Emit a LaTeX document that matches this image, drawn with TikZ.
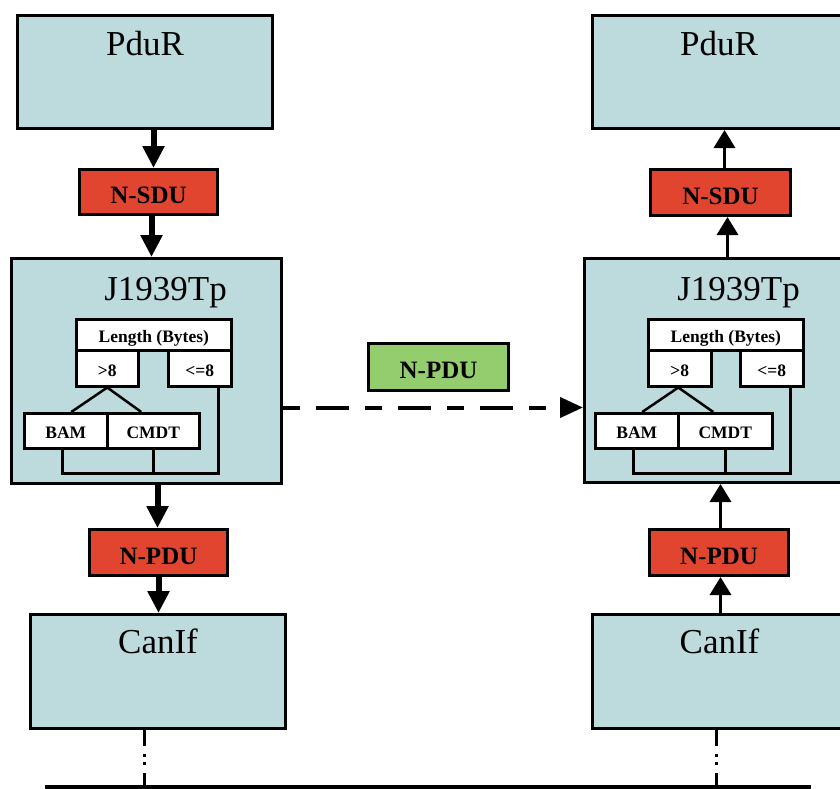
\documentclass[tikz,border=0pt]{standalone}
\usepackage{fontspec}
\setmainfont{Liberation Serif}
\usetikzlibrary{arrows.meta}
\definecolor{boxteal}{HTML}{BDDBDC}
\definecolor{boxred}{HTML}{E2452F}
\definecolor{boxgreen}{HTML}{93CD6E}
\begin{document}
\begin{tikzpicture}[x=1pt,y=-1pt,
  tbox/.style={draw=black, line width=3pt, fill=boxteal, anchor=north west, inner sep=0pt},
  rbox/.style={draw=black, line width=3pt, fill=boxred, anchor=north west, inner sep=0pt, text height=23pt, text depth=0pt, font=\fontsize{25}{30}\selectfont\bfseries},
  gbox/.style={draw=black, line width=3pt, fill=boxgreen, anchor=north west, inner sep=0pt, text height=22pt, text depth=0pt, font=\fontsize{25}{30}\selectfont\bfseries},
  wbox/.style={draw=black, line width=2.5pt, fill=white, anchor=north west, inner sep=0pt, text height=16pt, text depth=0pt, font=\fontsize{17.5}{20}\selectfont\bfseries},
  big/.style={font=\fontsize{35}{40}\selectfont, anchor=base, inner sep=0pt},
  downarr/.style={line width=6pt, -{Triangle[length=22pt,width=21pt]}},
  uparr/.style={line width=3.5pt, -{Triangle[length=18pt,width=21pt]}},
  inner/.style={line width=2.5pt},
  dasharr/.style={line width=4pt, dash pattern=on 17pt off 16pt on 33pt off 16pt, -{Triangle[length=23pt,width=20pt]}},
  dotline/.style={line width=2.5pt, dash pattern=on 16pt off 8pt on 3pt off 5pt on 3pt off 8pt on 30pt},
  busline/.style={line width=6pt}]
\useasboundingbox (0,0) rectangle (840,789);
\clip (0,0) rectangle (840,789);

% ---------- left column ----------
\node[tbox, minimum width=255pt, minimum height=113pt] (pduRL) at (16,14) {};
\node[big] (tPduRL) at ([yshift=-42pt]pduRL.north) {PduR};
\node[rbox, minimum width=138pt, minimum height=45pt] (nsduL) at (78,168) {N-SDU};
\node[tbox, minimum width=270pt, minimum height=225pt] (jtpL) at (10,257) {};
\node[big] (tJtpL) at ([xshift=19pt,yshift=-43pt]jtpL.north) {J1939Tp};
\node[rbox, minimum width=138pt, minimum height=46pt] (npduL) at (88,528) {N-PDU};
\node[tbox, minimum width=255pt, minimum height=114pt] (canifL) at (29,613) {};
\node[big] (tCanifL) at ([yshift=-40pt]canifL.north) {CanIf};

\node[wbox, minimum width=155pt, minimum height=31pt] (lenL) at (75,318) {Length (Bytes)};
\node[wbox, minimum width=62pt, minimum height=36pt] (gtL) at (75,349) {>8};
\node[wbox, minimum width=63pt, minimum height=36pt] (leL) at (167,349) {<=8};
\node[wbox, minimum width=83pt, minimum height=35pt] (bamL) at (23,412) {BAM};
\node[wbox, minimum width=92pt, minimum height=35pt] (cmdtL) at (106,412) {CMDT};

\draw[inner] (gtL.south) -- ([xshift=5.5pt]bamL.north);
\draw[inner] (gtL.south) -- ([xshift=-12pt]cmdtL.north);
\draw[inner] ([xshift=-3.5pt]bamL.south) -- ++(0,24) -| ([xshift=18.5pt]leL.south);
\draw[inner] (cmdtL.south) -- ++(0,24);

% ---------- right column ----------
\node[tbox, minimum width=253pt, minimum height=113pt] (pduRR) at (591,14) {};
\node[big] (tPduRR) at ([yshift=-42pt]pduRR.north) {PduR};
\node[rbox, minimum width=140pt, minimum height=46pt] (nsduR) at (649,168) {N-SDU};
\node[tbox, minimum width=270pt, minimum height=224pt] (jtpR) at (583,257) {};
\node[big] (tJtpR) at ([xshift=19pt,yshift=-43pt]jtpR.north) {J1939Tp};
\node[rbox, minimum width=139pt, minimum height=46pt] (npduR) at (648,528) {N-PDU};
\node[tbox, minimum width=254pt, minimum height=114pt] (canifR) at (591,613) {};
\node[big] (tCanifR) at ([yshift=-40pt]canifR.north) {CanIf};

\node[wbox, minimum width=155pt, minimum height=31pt] (lenR) at (647,318) {Length (Bytes)};
\node[wbox, minimum width=63pt, minimum height=36pt] (gtR) at (647,349) {>8};
\node[wbox, minimum width=63pt, minimum height=36pt] (leR) at (739,349) {<=8};
\node[wbox, minimum width=83pt, minimum height=35pt] (bamR) at (594,412) {BAM};
\node[wbox, minimum width=94pt, minimum height=35pt] (cmdtR) at (677,412) {CMDT};

\draw[inner] ([xshift=-1.5pt]gtR.south) -- ([xshift=5.5pt]bamR.north);
\draw[inner] ([xshift=-1.5pt]gtR.south) -- ([xshift=-12pt]cmdtR.north);
\draw[inner] ([xshift=-3.5pt]bamR.south) -- ++(0,24) -| ([xshift=18.5pt]leR.south);
\draw[inner] (cmdtR.south) -- ++(0,24);

% ---------- middle ----------
\node[gbox, minimum width=140pt, minimum height=47pt] (npduG) at (367,342) {N-PDU};
\draw[dasharr] ([yshift=-36.5pt]jtpL.east) -- ([yshift=-37pt]jtpR.west);

% ---------- left arrows (down) ----------
\coordinate (a1) at ([xshift=8.5pt]pduRL.south);
\coordinate (a2) at ([xshift=3pt]nsduL.south);
\coordinate (a3) at ([xshift=11pt]jtpL.south);
\coordinate (a4) at (npduL.south);
\draw[downarr] (a1) -- (a1 |- nsduL.north);
\draw[downarr] (a2) -- (a2 |- jtpL.north);
\draw[downarr] (a3) -- (a3 |- npduL.north);
\draw[downarr] (a4) -- (a4 |- canifL.north);

% ---------- right arrows (up) ----------
\coordinate (b1) at ([xshift=1pt]canifR.north);
\coordinate (b2) at ([xshift=1.5pt]npduR.north);
\coordinate (b3) at ([xshift=8pt]jtpR.north);
\coordinate (b4) at ([xshift=4pt]nsduR.north);
\draw[uparr] (b1) -- (b1 |- npduR.south);
\draw[uparr] (b2) -- (b2 |- jtpR.south);
\draw[uparr] (b3) -- (b3 |- nsduR.south);
\draw[uparr] (b4) -- (b4 |- pduRR.south);

% ---------- bus ----------
\coordinate (busL) at (45,788);
\coordinate (busR) at (811,788);
\draw[busline] (busL) -- (busR);
\coordinate (dl) at ([xshift=-13.5pt]canifL.south);
\coordinate (dr) at ([xshift=-3pt]canifR.south);
\draw[dotline] (dl) -- (dl |- busL);
\draw[dotline] (dr) -- (dr |- busL);
\end{tikzpicture}
\end{document}
